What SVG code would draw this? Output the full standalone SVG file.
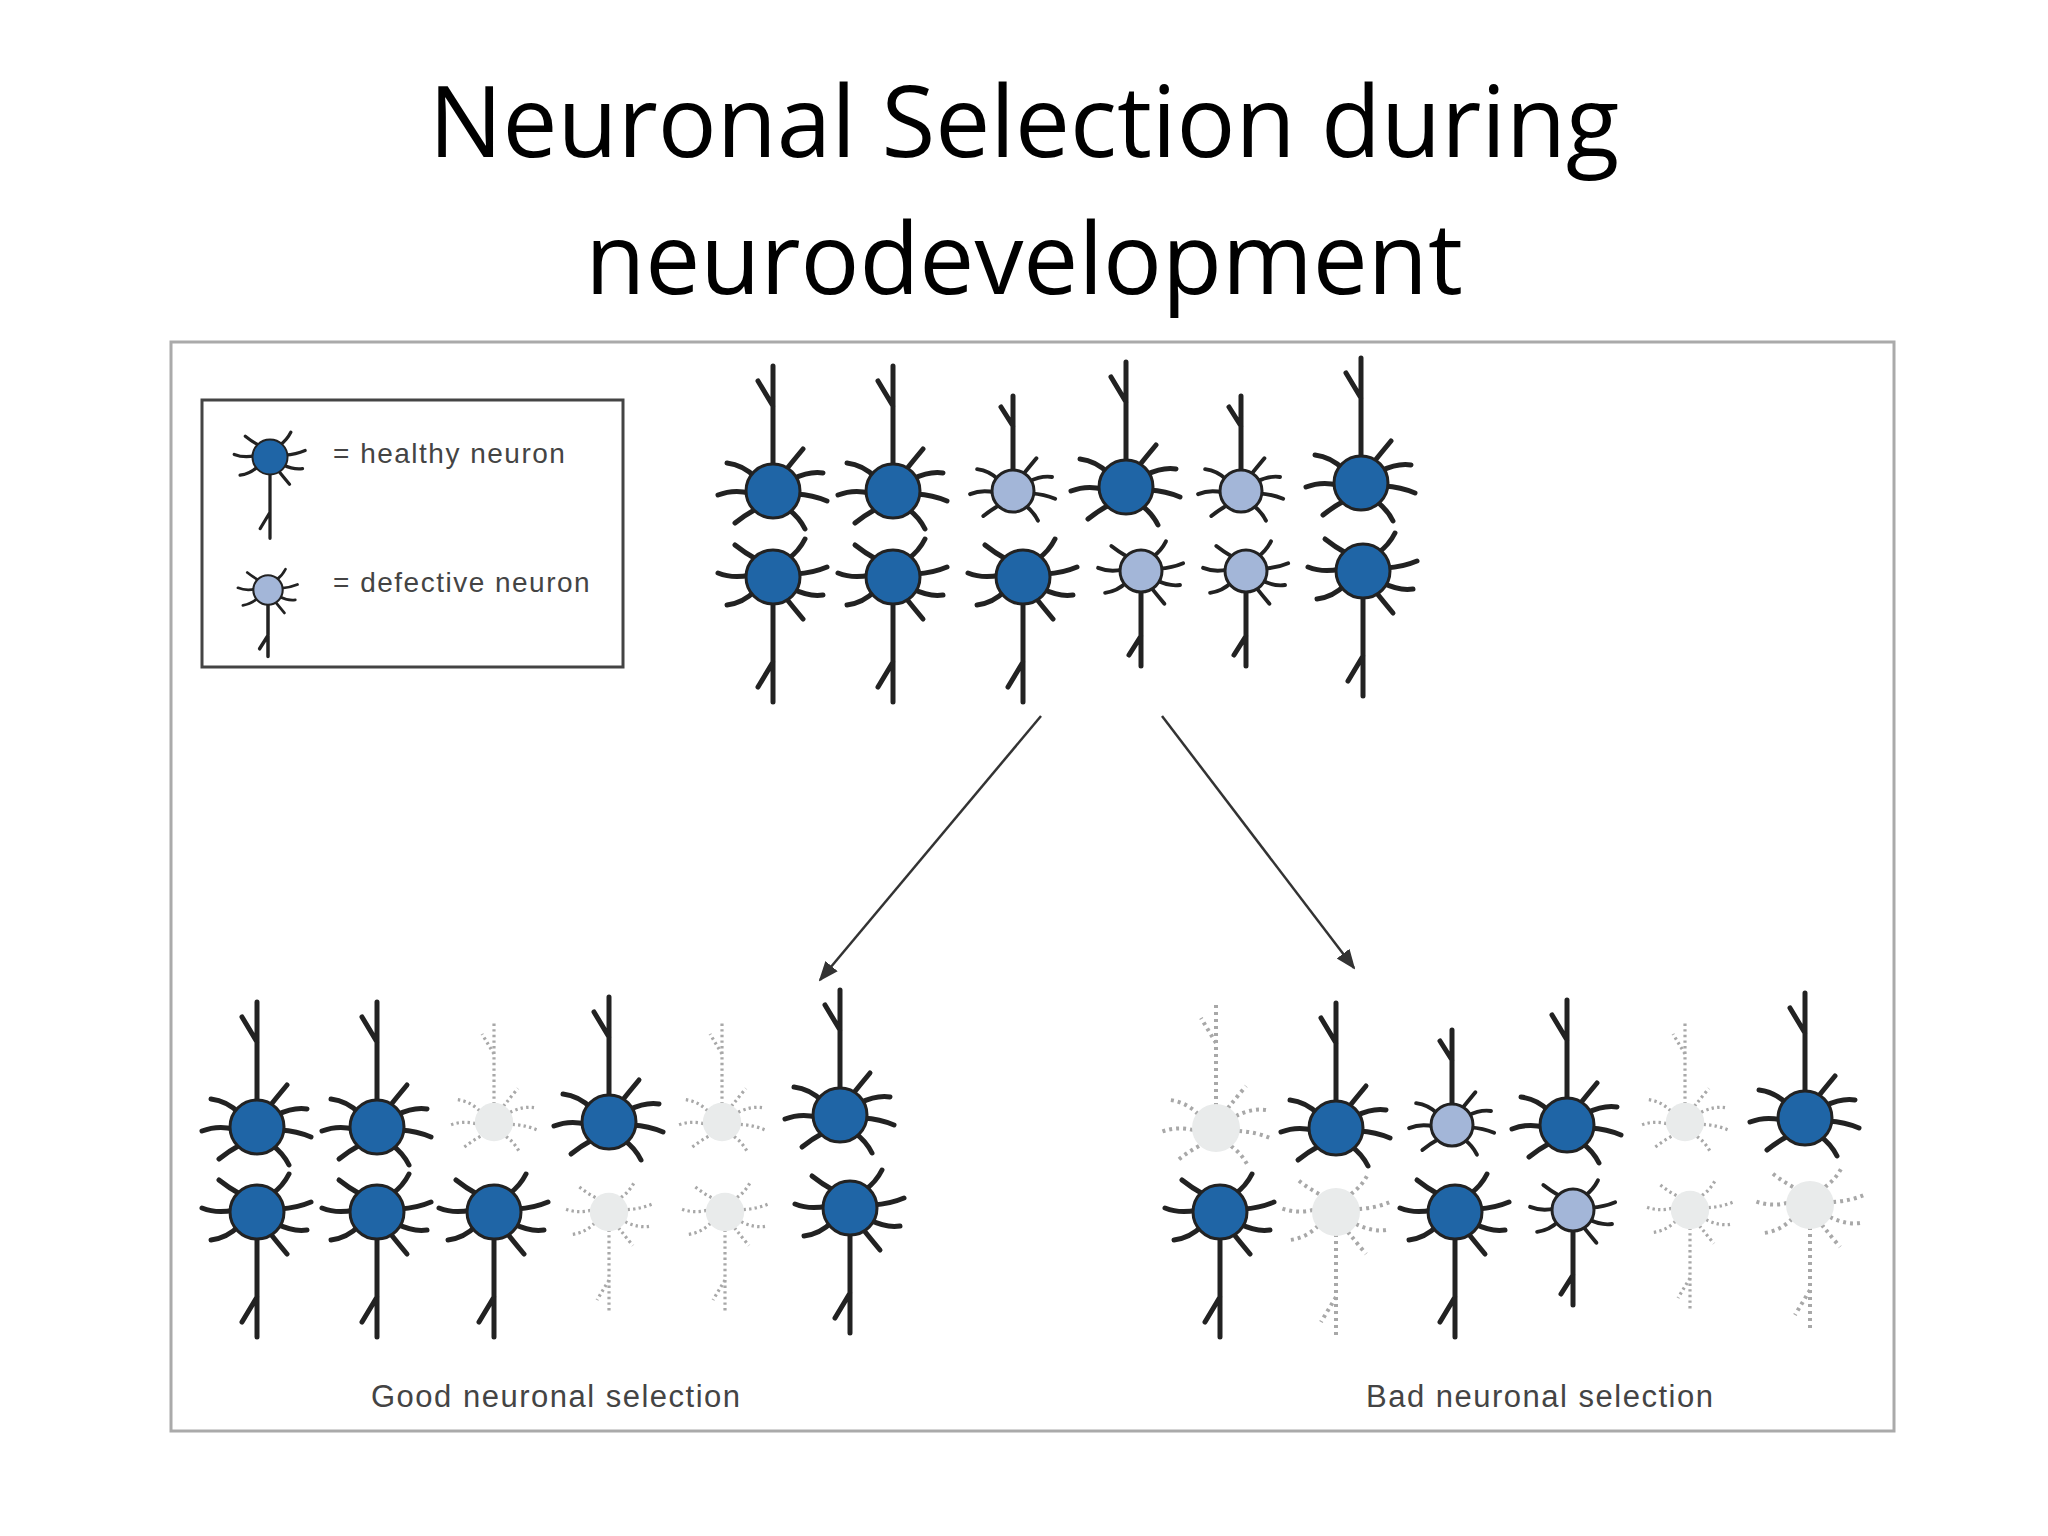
<svg xmlns="http://www.w3.org/2000/svg" xmlns:xlink="http://www.w3.org/1999/xlink" width="2048" height="1536" viewBox="0 0 2048 1536">
<style>
.k{fill:none;stroke:#222;stroke-width:5;stroke-linecap:round;stroke-linejoin:round}
.x{fill:none;stroke:#a8a8a8;stroke-width:4;stroke-dasharray:3 4}
.hb{fill:#1f65a6;stroke:#222;stroke-width:3}
.db{fill:#a3b6d8;stroke:#222;stroke-width:3}
.t{font-family:"Liberation Sans",Arial,sans-serif;fill:#444;letter-spacing:1.5px}
.title{font-family:"Open Sans","Liberation Sans",sans-serif;font-size:98px;fill:#000;text-anchor:middle}
.arr{stroke:#333;stroke-width:2.5;fill:none}
</style>
<defs>
<path id="sp" d="M20,-12 Q36,-20 50,-18 M23,3 Q40,4 54,10 M15,18 Q26,26 32,38 M-17,18 Q-28,24 -38,32 M-23,2 Q-40,-2 -55,4 M-18,-14 Q-30,-26 -46,-28 M12,-20 Q20,-30 30,-42"/>
<path id="dd" d="M0,-22 V-125 M0,-85 L-15,-110"/>
<g id="H"><use href="#sp" class="k"/><use href="#dd" class="k"/><circle r="27" class="hb"/></g>
<g id="D"><g transform="scale(.78)"><use href="#sp" class="k"/></g><path d="M0,-16 V-95 M0,-65 L-12,-84" class="k"/><circle r="21" class="db"/></g>
<g id="X"><use href="#sp" class="x"/><use href="#dd" class="x"/><circle r="24" fill="#e9ebeb"/></g>
<marker id="ah" viewBox="0 0 10 10" refX="9" refY="5" markerWidth="8" markerHeight="8" orient="auto"><path d="M0,1 L10,5 L0,9 Z" fill="#333"/></marker>
</defs>
<rect width="2048" height="1536" fill="#fff"/>
<text class="title" x="1024" y="157">Neuronal Selection during</text>
<text class="title" x="1024" y="294">neurodevelopment</text>
<rect x="171" y="342" width="1723" height="1089" fill="none" stroke="#aaa" stroke-width="3"/>
<g id="legend">
<rect x="202" y="400" width="421" height="267" fill="none" stroke="#444" stroke-width="3"/>
<use href="#H" transform="translate(270,457) scale(.65,-.65)"/>
<text class="t" x="333" y="463" font-size="28">= healthy neuron</text>
<use href="#D" transform="translate(268,590) scale(.7,-.7)"/>
<text class="t" x="333" y="592" font-size="28">= defective neuron</text>
</g>
<g id="top">
<use href="#H" transform="translate(773,491)"/><use href="#H" transform="translate(893,491)"/><use href="#D" transform="translate(1013,491)"/><use href="#H" transform="translate(1126,487)"/><use href="#D" transform="translate(1241,491)"/><use href="#H" transform="translate(1361,483)"/>
<use href="#H" transform="translate(773,577) scale(1,-1)"/><use href="#H" transform="translate(893,577) scale(1,-1)"/><use href="#H" transform="translate(1023,577) scale(1,-1)"/><use href="#D" transform="translate(1141,571) scale(1,-1)"/><use href="#D" transform="translate(1246,571) scale(1,-1)"/><use href="#H" transform="translate(1363,571) scale(1,-1)"/>
</g>
<g id="connectors">
<line class="arr" x1="1041" y1="716" x2="820" y2="980" marker-end="url(#ah)"/>
<line class="arr" x1="1162" y1="716" x2="1354" y2="968" marker-end="url(#ah)"/>
</g>
<g id="good">
<use href="#H" transform="translate(257,1127)"/><use href="#H" transform="translate(377,1127)"/><use href="#X" transform="translate(494,1122) scale(.8)"/><use href="#H" transform="translate(609,1122)"/><use href="#X" transform="translate(722,1122) scale(.8)"/><use href="#H" transform="translate(840,1115)"/>
<use href="#H" transform="translate(257,1212) scale(1,-1)"/><use href="#H" transform="translate(377,1212) scale(1,-1)"/><use href="#H" transform="translate(494,1212) scale(1,-1)"/><use href="#X" transform="translate(609,1212) scale(.8,-.8)"/><use href="#X" transform="translate(725,1212) scale(.8,-.8)"/><use href="#H" transform="translate(850,1208) scale(1,-1)"/>
<text class="t" x="371" y="1407" font-size="31">Good neuronal selection</text>
</g>
<g id="bad">
<use href="#X" transform="translate(1216,1128)"/><use href="#H" transform="translate(1336,1128)"/><use href="#D" transform="translate(1452,1125)"/><use href="#H" transform="translate(1567,1125)"/><use href="#X" transform="translate(1685,1122) scale(.8)"/><use href="#H" transform="translate(1805,1118)"/>
<use href="#H" transform="translate(1220,1212) scale(1,-1)"/><use href="#X" transform="translate(1336,1212) scale(1,-1)"/><use href="#H" transform="translate(1455,1212) scale(1,-1)"/><use href="#D" transform="translate(1573,1210) scale(1,-1)"/><use href="#X" transform="translate(1690,1210) scale(.8,-.8)"/><use href="#X" transform="translate(1810,1205) scale(1,-1)"/>
<text class="t" x="1366" y="1407" font-size="31">Bad neuronal selection</text>
</g>
</svg>
